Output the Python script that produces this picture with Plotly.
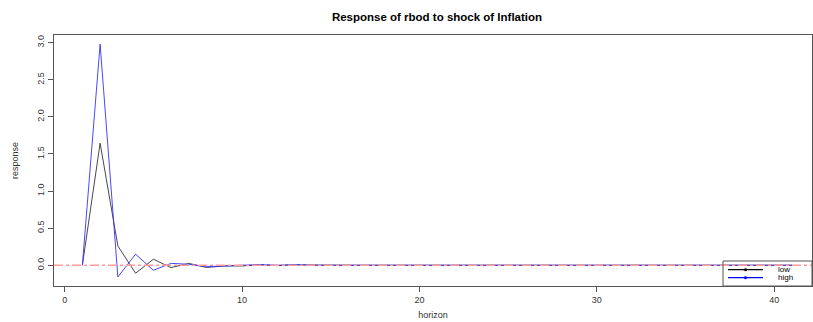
import plotly.graph_objects as go

horizon = list(range(1, 42))
low_tail = [-0.01, 0.005, -0.005, 0.005] + [0.0] * 28
high_tail = [-0.005, 0.01, 0.0, 0.01] + [0.0] * 28
low = [0.0, 1.645, 0.26, -0.108, 0.081, -0.032, 0.025, -0.03, -0.01] + low_tail
high = [0.0, 2.98, -0.158, 0.149, -0.068, 0.025, 0.013, -0.02, -0.01] + high_tail

title_text = "Response of rbod to shock of Inflation"
x_ticks = [0, 10, 20, 30, 40]
y_ticks = [0.0, 0.5, 1.0, 1.5, 2.0, 2.5, 3.0]
y_tick_labels = ["0.0", "0.5", "1.0", "1.5", "2.0", "2.5", "3.0"]
legend_names = ["low", "high"]
legend_colors = ["black", "blue"]

FONT = "Liberation Sans, Arial, sans-serif"
W, H = 813, 322
ML, MR, MT, MB = 54, 1, 35, 36
PW, PH = W - ML - MR, H - MT - MB


def px_x(p):
    return (p - ML) / PW


def px_y(p):
    return (H - MB - p) / PH


fig = go.Figure()
fig.add_trace(go.Scatter(x=horizon, y=low, mode="lines", name="low",
                         line=dict(color="#333333", width=0.9), showlegend=False))
fig.add_trace(go.Scatter(x=horizon, y=high, mode="lines", name="high",
                         line=dict(color="#3333ff", width=0.9), showlegend=False))

fig.add_shape(type="line", xref="paper", x0=0, x1=1, yref="y", y0=0, y1=0,
              line=dict(color="#ff9a9a", width=1.4, dash="dashdot"),
              layer="above")

# legend box (R style, bottom right)
fig.add_shape(type="rect", xref="paper", yref="paper",
              x0=px_x(723), x1=1, y0=0, y1=px_y(261),
              line=dict(color="#555555", width=1), fillcolor="rgba(0,0,0,0)",
              layer="above")
for i, (name, col) in enumerate(zip(legend_names, legend_colors)):
    yy = px_y(269.7 + 8 * i)
    fig.add_shape(type="line", xref="paper", yref="paper",
                  x0=px_x(728), x1=px_x(763), y0=yy, y1=yy,
                  line=dict(color=col, width=1.2), layer="above")
    fig.add_shape(type="circle", xref="paper", yref="paper",
                  xsizemode="pixel", ysizemode="pixel",
                  xanchor=px_x(745.5), yanchor=yy,
                  x0=-1.3, x1=1.3, y0=-1.3, y1=1.3,
                  line=dict(color=col, width=0.5), fillcolor=col, layer="above")
    fig.add_annotation(text=name, xref="paper", yref="paper",
                       x=px_x(776), y=yy, xanchor="left", yanchor="middle",
                       showarrow=False, font=dict(family=FONT, size=8, color="black"))

fig.update_layout(
    width=W, height=H,
    margin=dict(l=ML, r=MR, t=MT, b=MB),
    plot_bgcolor="white", paper_bgcolor="white",
    showlegend=False,
    font=dict(family=FONT, size=9, color="#333333"),
    title=dict(text="<b>" + title_text + "</b>", x=437 / W, xref="container",
               xanchor="center", y=1 - 17 / H, yref="container", yanchor="middle",
               font=dict(family=FONT, size=11.5, color="black")),
    xaxis=dict(range=[-0.6, 42.13], tickvals=x_ticks, showgrid=False, zeroline=False,
               showline=True, mirror=True, linecolor="#555555", linewidth=1,
               ticks="outside", ticklen=5, tickcolor="#555555",
               tickfont=dict(size=9, color="#333333"),
               title=dict(text="horizon", standoff=7, font=dict(size=9, color="#333333"))),
    yaxis=dict(range=[-0.28, 3.104], tickvals=y_ticks, ticktext=y_tick_labels,
               showgrid=False, zeroline=False, tickangle=-90,
               showline=True, mirror=True, linecolor="#555555", linewidth=1,
               ticks="outside", ticklen=5, tickcolor="#555555",
               tickfont=dict(size=9, color="#333333"),
               title=dict(text="response", standoff=16, font=dict(size=9, color="#333333"))),
)

fig.write_html("out.html", config={"displayModeBar": False},
               post_script="document.body.style.margin='0';document.body.style.overflow='hidden';")
